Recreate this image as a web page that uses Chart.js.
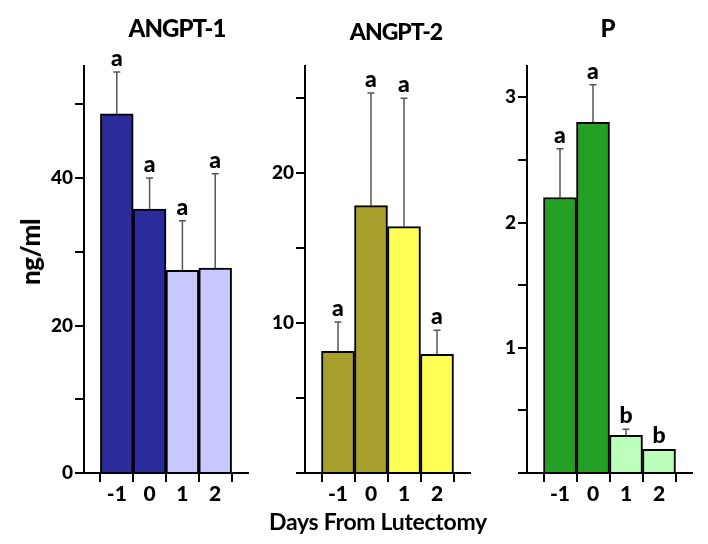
<!DOCTYPE html>
<html>
<head>
<meta charset="utf-8">
<script src="https://cdn.jsdelivr.net/npm/chart.js@4.4.1/dist/chart.umd.min.js"></script>
<style>
    body { margin: 0; background: #fff; }
    #wrap { position: relative; width: 708px; height: 544px; overflow: hidden; font-family: Lato, sans-serif; }
    #wrap canvas { position: absolute; top: 0; }
    .lbl { position: absolute; font-weight: 900; color: #000; line-height: 1; white-space: nowrap; transform: translate(-50%, -50%); }
</style>
</head>
<body>
<div id="wrap">
    <canvas id="c1" style="left:0px" width="252" height="520"></canvas>
    <canvas id="c2" style="left:240px" width="234" height="520"></canvas>
    <canvas id="c3" style="left:470px" width="226" height="520"></canvas>
    <div class="lbl" style="left:177px; top:28px; font-size:24px; letter-spacing:-1px">ANGPT-1</div>
    <div class="lbl" style="left:396px; top:31px; font-size:23px; letter-spacing:-1px">ANGPT-2</div>
    <div class="lbl" style="left:608px; top:28px; font-size:24px">P</div>
    <div class="lbl" style="left:30px; top:252px; font-size:26px; letter-spacing:-0.5px; transform: translate(-50%, -50%) rotate(-90deg)">ng/ml</div>
    <div class="lbl" style="left:378px; top:521px; font-size:23px; font-weight:bold; letter-spacing:-0.3px">Days From Lutectomy</div>
</div>
<script>
// dias em relação à luteectomia
const days = [-1, 0, 1, 2];
const xTicks = [-2, -1, 0, 1, 2, 3];

// ANGPT-1 (ng/ml)
const angpt1Mean = [48.7, 35.8, 27.5, 27.8];
const angpt1Err = [54.4, 40.0, 34.2, 40.6];
const angpt1Letters = ['a', 'a', 'a', 'a'];
const angpt1Ticks = [0, 10, 20, 30, 40, 50];
const angpt1Labels = [0, 20, 40];

// ANGPT-2 (ng/ml)
const angpt2Mean = [8.1, 17.8, 16.4, 7.9];
const angpt2Err = [10.05, 25.3, 24.95, 9.5];
const angpt2Letters = ['a', 'a', 'a', 'a'];
const angpt2Ticks = [0, 5, 10, 15, 20, 25];
const angpt2Labels = [10, 20];

// P (ng/ml)
const pMean = [2.2, 2.8, 0.3, 0.19];
const pErr = [2.59, 3.1, 0.35, 0.19];
const pLetters = ['a', 'a', 'b', 'b'];
const pTicks = [0, 0.5, 1, 1.5, 2, 2.5, 3];
const pLabels = [1, 2, 3];

const errorBars = {
    id: 'errorBars',
    afterDatasetsDraw(chart) {
        const ctx = chart.ctx;
        const ds = chart.data.datasets[0];
        const meta = chart.getDatasetMeta(0);
        const y = chart.scales.y;
        ctx.save();
        meta.data.forEach((bar, i) => {
            const yTop = y.getPixelForValue(ds.data[i].y);
            const yErr = y.getPixelForValue(ds.errors[i]);
            if (yErr < yTop - 1) {
                ctx.strokeStyle = '#555';
                ctx.lineWidth = 1.5;
                ctx.beginPath();
                ctx.moveTo(bar.x, yTop);
                ctx.lineTo(bar.x, yErr);
                ctx.moveTo(bar.x - 3.5, yErr);
                ctx.lineTo(bar.x + 3.5, yErr);
                ctx.stroke();
            }
            ctx.fillStyle = '#000';
            ctx.font = '900 23px Lato';
            ctx.textAlign = 'center';
            ctx.textBaseline = 'alphabetic';
            ctx.fillText(ds.letters[i], bar.x, Math.min(yErr, yTop) - 6);
        });
        ctx.restore();
    }
};

function makePanel(id, means, errs, letters, colors, yMax, yTicks, yLabels, yWidth) {
    new Chart(document.getElementById(id), {
        type: 'bar',
        data: {
            datasets: [{
                data: days.map((d, i) => ({ x: d, y: means[i] })),
                errors: errs,
                letters: letters,
                backgroundColor: colors,
                borderColor: '#000',
                borderWidth: 2,
                barPercentage: 1,
                categoryPercentage: 1
            }]
        },
        options: {
            responsive: false,
            animation: false,
            layout: { padding: { top: 66, right: 4, left: 0, bottom: 0 } },
            plugins: { legend: { display: false }, tooltip: { enabled: false } },
            scales: {
                x: {
                    type: 'linear',
                    min: -2,
                    max: 3,
                    offset: false,
                    afterBuildTicks: (s) => { s.ticks = xTicks.map(v => ({ value: v })); },
                    afterFit: (s) => { s.height = 47; },
                    grid: { drawOnChartArea: false, color: '#000', lineWidth: 2, tickLength: 9 },
                    border: { color: '#000', width: 2 },
                    ticks: {
                        autoSkip: false,
                        maxRotation: 0,
                        padding: 0,
                        color: '#000',
                        font: { family: 'Lato', size: 21, weight: '900' },
                        callback: (v) => days.includes(v) ? String(v) : ''
                    }
                },
                y: {
                    min: 0,
                    max: yMax,
                    afterBuildTicks: (s) => { s.ticks = yTicks.map(v => ({ value: v })); },
                    afterFit: (s) => { s.width = yWidth; },
                    grid: { drawOnChartArea: false, color: '#000', lineWidth: 2, tickLength: 9 },
                    border: { color: '#000', width: 2 },
                    ticks: {
                        padding: 2,
                        color: '#000',
                        font: { family: 'Lato', size: 19, weight: '900' },
                        callback: (v) => yLabels.includes(v) ? String(v) : ''
                    }
                }
            }
        },
        plugins: [errorBars]
    });
}

makePanel('c1', angpt1Mean, angpt1Err, angpt1Letters,
    ['#2b2b9c', '#2b2b9c', '#c8c8ff', '#c8c8ff'], 55.2, angpt1Ticks, angpt1Labels, 84);
makePanel('c2', angpt2Mean, angpt2Err, angpt2Letters,
    ['#a8a02c', '#a8a02c', '#ffff55', '#ffff55'], 27.1, angpt2Ticks, angpt2Labels, 65);
makePanel('c3', pMean, pErr, pLetters,
    ['#24a024', '#24a024', '#bbffbb', '#bbffbb'], 3.25, pTicks, pLabels, 57);
</script>
</body>
</html>
